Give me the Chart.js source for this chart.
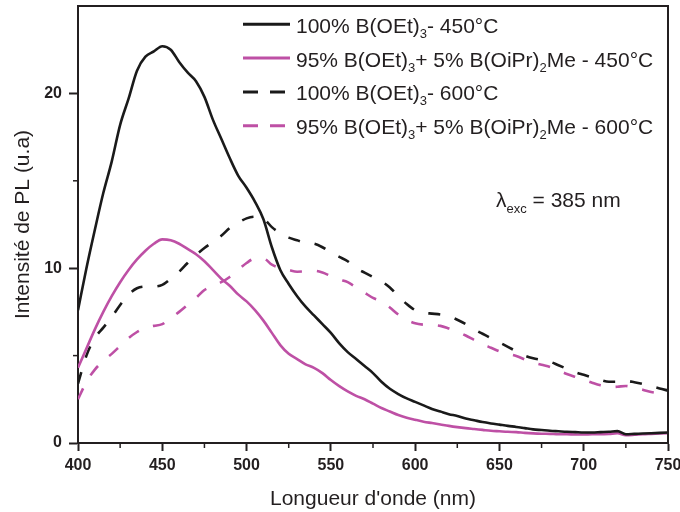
<!DOCTYPE html>
<html><head><meta charset="utf-8">
<script src="https://cdn.jsdelivr.net/npm/chart.js@4/dist/chart.umd.min.js"></script>
<style>html,body{margin:0;padding:0;background:#fff;}#wrap{width:680px;height:512px;position:relative;}</style>
</head><body><div id="wrap"><canvas id="c" width="680" height="512"></canvas></div>
<script>
const wavelengths = [400,405,410,415,420,425,430,435,440,445,450,455,460,465,470,475,480,485,490,495,500,505,510,515,520,525,530,535,540,545,550,555,560,565,570,575,580,585,590,595,600,605,610,615,620,625,630,635,640,645,650,655,660,665,670,675,680,685,690,695,700,705,710,715,720,725,730,735,740,745,750];
const pl100_450 = [7.6,10.0,12.2,14.3,16.1,18.2,19.7,21.3,22.1,22.4,22.7,22.5,21.8,21.2,20.7,19.8,18.5,17.4,16.3,15.3,14.6,13.8,12.8,11.2,9.9,9.1,8.4,7.8,7.3,6.8,6.3,5.7,5.2,4.8,4.4,4.0,3.5,3.1,2.8,2.55,2.35,2.15,1.95,1.8,1.65,1.55,1.4,1.3,1.2,1.12,1.05,0.98,0.92,0.85,0.78,0.74,0.7,0.67,0.64,0.62,0.6,0.6,0.62,0.64,0.68,0.5,0.52,0.54,0.56,0.58,0.6];
const pl95_450 = [4.3,5.4,6.5,7.5,8.4,9.2,9.9,10.5,11.0,11.4,11.65,11.6,11.4,11.1,10.8,10.4,9.9,9.4,9.0,8.5,8.1,7.6,7.0,6.3,5.6,5.1,4.8,4.5,4.3,4.0,3.6,3.25,2.95,2.7,2.5,2.25,2.0,1.8,1.6,1.45,1.33,1.22,1.14,1.06,0.98,0.91,0.85,0.8,0.75,0.7,0.67,0.64,0.62,0.58,0.55,0.53,0.52,0.5,0.5,0.49,0.49,0.5,0.5,0.52,0.56,0.45,0.47,0.5,0.52,0.54,0.56];
const pl100_600 = [3.4,5.0,6.0,6.6,7.2,7.9,8.5,8.85,8.95,8.95,9.05,9.4,9.8,10.3,10.75,11.15,11.5,11.85,12.3,12.6,12.85,12.95,12.85,12.35,12.0,11.75,11.6,11.45,11.4,11.2,10.9,10.65,10.4,10.0,9.75,9.5,9.25,8.9,8.4,7.95,7.6,7.45,7.4,7.35,7.25,7.05,6.8,6.5,6.25,6.0,5.75,5.5,5.25,5.0,4.85,4.75,4.65,4.45,4.25,4.05,3.9,3.75,3.6,3.5,3.5,3.55,3.48,3.38,3.25,3.12,3.0];
const pl95_600 = [2.5,3.5,4.2,4.7,5.1,5.55,6.0,6.35,6.6,6.7,6.8,7.15,7.5,7.9,8.3,8.75,9.0,9.2,9.5,9.9,10.3,10.55,10.55,10.2,10.0,9.9,9.8,9.82,9.85,9.75,9.55,9.35,9.2,8.9,8.6,8.3,8.1,7.75,7.35,7.05,6.85,6.77,6.75,6.7,6.55,6.38,6.15,5.9,5.65,5.45,5.25,5.1,4.98,4.78,4.6,4.47,4.35,4.15,3.95,3.78,3.62,3.45,3.3,3.2,3.22,3.26,3.16,3.05,2.92,2.85,2.8];
const seriesLabels = ['100% B(OEt)_{3}- 450°C','95% B(OEt)_{3}+ 5% B(OiPr)_{2}Me - 450°C','100% B(OEt)_{3}- 600°C','95% B(OEt)_{3}+ 5% B(OiPr)_{2}Me - 600°C'];
const xTickLabels = [400,450,500,550,600,650,700,750];
const yTickLabels = [0,10,20];
const xTitle = "Longueur d'onde (nm)";
const yTitle = 'Intensité de PL (u.a)';
const annotationText = 'λ_{exc} = 385 nm';

const FAM = '"Liberation Sans", Arial, Helvetica, sans-serif';
const INK = '#231f20';
const BLACK = '#1a1a1a';
const MAG = 'rgb(190,80,165)';

const seriesValues = [pl100_450, pl95_450, pl100_600, pl95_600];
const seriesStyle = [
  {color: BLACK, dash: []},
  {color: MAG, dash: []},
  {color: BLACK, dash: [12, 15]},
  {color: MAG, dash: [12, 15]}
];

function richParts(text){
  const parts=[]; const re=/_\{([^}]*)\}/g; let last=0, m;
  while((m=re.exec(text))){ if(m.index>last) parts.push({t:text.slice(last,m.index),s:false}); parts.push({t:m[1],s:true}); last=re.lastIndex; }
  if(last<text.length) parts.push({t:text.slice(last),s:false});
  return parts;
}
function drawRich(ctx, text, x, y, size, subSize, subDy){
  let cx=x;
  ctx.textBaseline='alphabetic'; ctx.textAlign='left'; ctx.fillStyle=INK;
  for(const p of richParts(text)){
    ctx.font=(p.s?subSize:size)+'px '+FAM;
    ctx.fillText(p.t, cx, p.s? y+subDy : y);
    cx += ctx.measureText(p.t).width;
  }
}

const decor = {
  id:'decor',
  afterDraw(chart){
    const ctx=chart.ctx, a=chart.chartArea;
    ctx.save();
    // frame top/right
    ctx.strokeStyle=INK; ctx.lineWidth=2; ctx.setLineDash([]);
    ctx.beginPath(); ctx.moveTo(a.left, a.top); ctx.lineTo(a.right, a.top); ctx.lineTo(a.right, a.bottom); ctx.stroke();
    // minor ticks
    const xs=chart.scales.x, ys=chart.scales.y;
    ctx.lineWidth=1.5;
    xs.ticks.forEach(t=>{ if(!xTickLabels.includes(t.value)){ const px=xs.getPixelForValue(t.value); ctx.beginPath(); ctx.moveTo(px,a.bottom); ctx.lineTo(px,a.bottom+5); ctx.stroke(); }});
    ys.ticks.forEach(t=>{ if(!yTickLabels.includes(t.value) && t.value<ys.max){ const py=ys.getPixelForValue(t.value); ctx.beginPath(); ctx.moveTo(a.left,py); ctx.lineTo(a.left-5,py); ctx.stroke(); }});
    // legend
    const rowY=[24.3,58.1,91.9,125.7];
    seriesLabels.forEach((lab,i)=>{
      const st=seriesStyle[i];
      ctx.strokeStyle=st.color; ctx.lineWidth=3; ctx.setLineDash(st.dash.length?[15,12]:[]);
      ctx.beginPath(); ctx.moveTo(243,rowY[i]); ctx.lineTo(290,rowY[i]); ctx.stroke();
      ctx.setLineDash([]);
      drawRich(ctx, lab, 296, rowY[i]+8.4, 21, 13, 5);
    });
    drawRich(ctx, annotationText, 496, 207, 21, 13, 6);
    ctx.restore();
  }
};

new Chart(document.getElementById('c'), {
  type:'line',
  data:{
    datasets: seriesValues.map((vals,i)=>({
      label: seriesLabels[i],
      data: wavelengths.map((w,j)=>({x:w, y:vals[j]})),
      borderColor: seriesStyle[i].color,
      borderDash: seriesStyle[i].dash,
      borderWidth: 2.6,
      pointRadius: 0,
      cubicInterpolationMode: 'monotone',
      fill: false
    }))
  },
  options:{
    responsive:false, animation:false, devicePixelRatio:1,
    layout:{padding:{top:6, right:12, left:0, bottom:0}},
    plugins:{legend:{display:false}, tooltip:{enabled:false}},
    scales:{
      x:{
        type:'linear', min:400, max:750,
        afterFit(s){ s.height=69; s.paddingLeft=0; s.paddingRight=0; },
        grid:{drawOnChartArea:false, tickLength:8, tickWidth:2,
          tickColor:(c)=> (c.tick && !xTickLabels.includes(c.tick.value)) ? 'rgba(0,0,0,0)' : INK},
        border:{display:true, color:INK, width:2},
        ticks:{stepSize:25, autoSkip:false, maxRotation:0, padding:5, color:INK,
          font:{family:FAM, size:16, weight:'bold'},
          callback:(v)=> xTickLabels.includes(v) ? String(v) : ''},
        title:{display:true, text:xTitle, color:INK, font:{family:FAM, size:21}, padding:{top:0,bottom:0}}
      },
      y:{
        type:'linear', min:0, max:25,
        afterFit(s){ s.width=78; s.paddingTop=0; s.paddingBottom=0; },
        grid:{drawOnChartArea:false, tickLength:9, tickWidth:2,
          tickColor:(c)=> (c.tick && !yTickLabels.includes(c.tick.value)) ? 'rgba(0,0,0,0)' : INK},
        border:{display:true, color:INK, width:2},
        ticks:{stepSize:5, padding:7, color:INK,
          font:{family:FAM, size:16, weight:'bold'},
          callback:(v)=> yTickLabels.includes(v) ? String(v) : ''},
        title:{display:true, text:yTitle, color:INK, font:{family:FAM, size:21}, padding:{top:11,bottom:0}}
      }
    }
  },
  plugins:[decor]
});
</script></body></html>
